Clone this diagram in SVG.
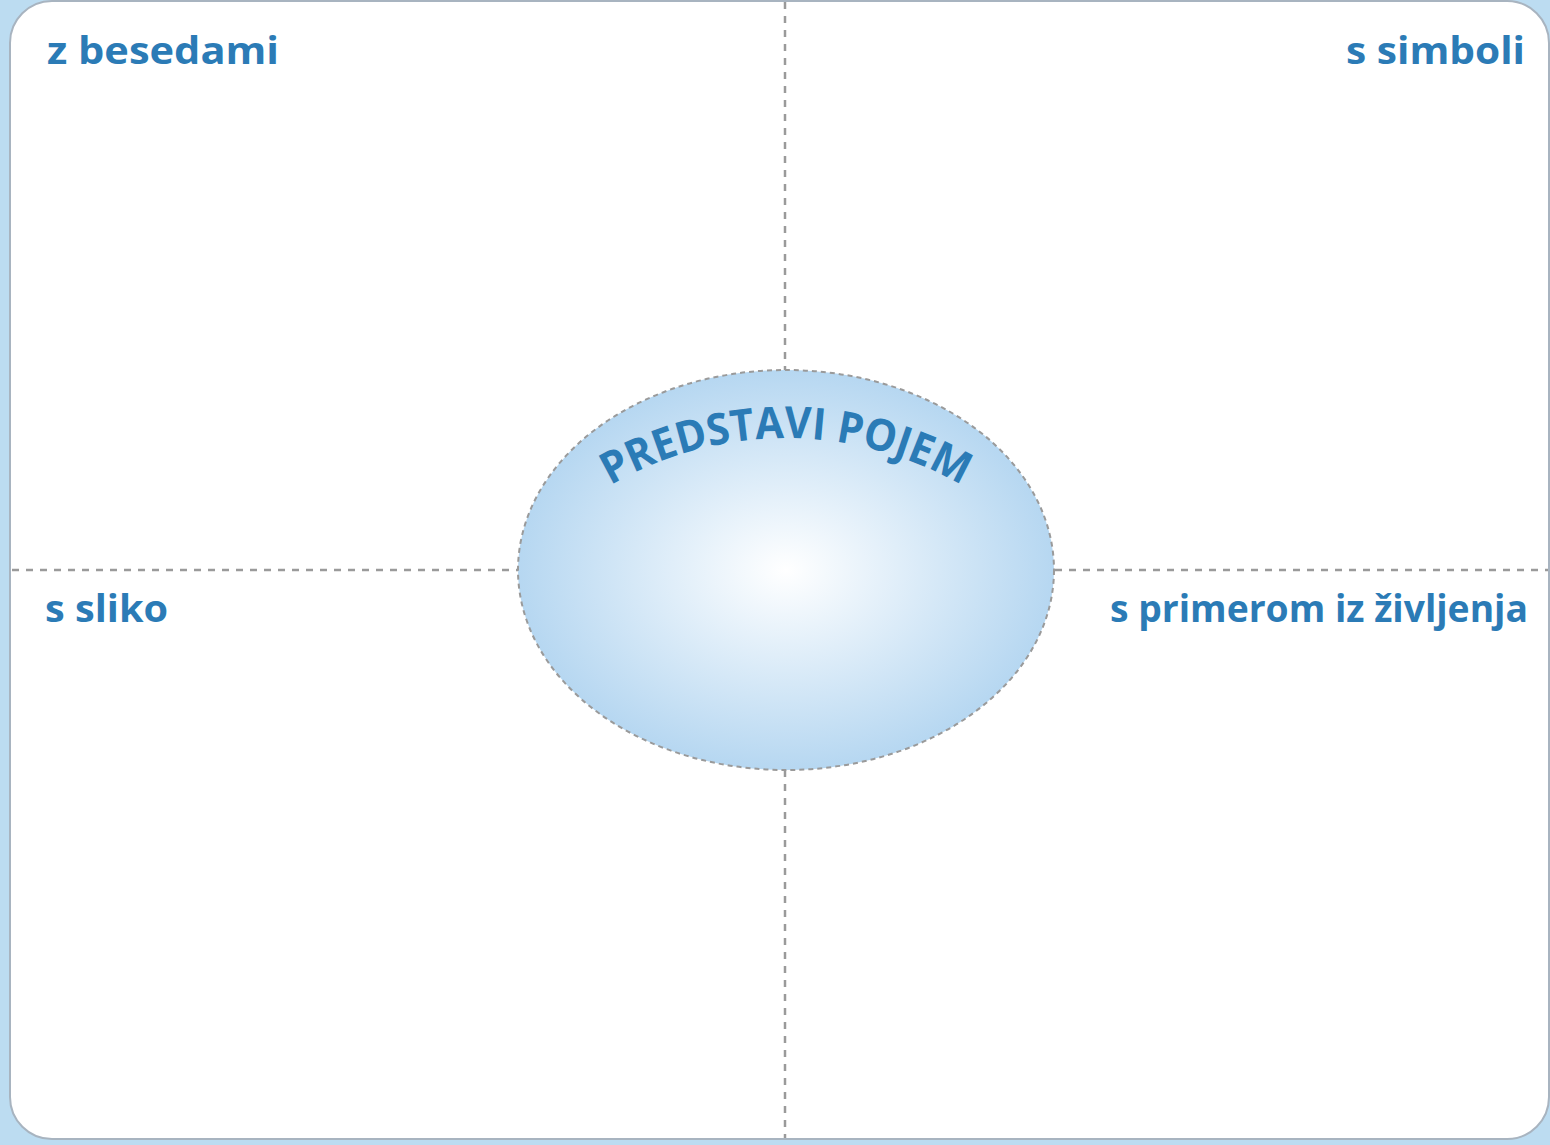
<svg xmlns="http://www.w3.org/2000/svg" width="1550" height="1145" viewBox="0 0 1550 1145">
<style>
.lbl{font-family:"Open Sans","Liberation Sans",sans-serif;font-weight:700;fill:#2b7bb6;font-size:38px}
.div{stroke:#9a9a9a;stroke-width:2.5;stroke-dasharray:7 7;fill:none}
</style>
<defs>
<radialGradient id="g" cx="0.5" cy="0.5" r="0.5">
<stop offset="0" stop-color="#ffffff"/>
<stop offset="1" stop-color="#b6d7f1"/>
</radialGradient>
<path id="arc" d="M 436 788 A 350 350 0 0 1 1136 788"/>
</defs>
<rect x="0" y="0" width="1550" height="1145" fill="#bcdcf1"/>
<rect x="10" y="1" width="1539" height="1138" rx="42" ry="42" fill="#ffffff" stroke="#a8b4c0" stroke-width="2"/>
<g id="connectors">
<line class="div" x1="785" y1="2" x2="785" y2="370"/>
<line class="div" x1="785" y1="770" x2="785" y2="1138"/>
<line class="div" x1="12" y1="570" x2="518" y2="570"/>
<line class="div" x1="1055" y1="570" x2="1548" y2="570"/>
</g>
<g id="center">
<ellipse cx="786" cy="570" rx="268" ry="200" fill="url(#g)" stroke="#9a9a9a" stroke-width="2" stroke-dasharray="5 4"/>
<text font-family="'Open Sans','Liberation Sans',sans-serif" font-weight="700" font-size="44" fill="#2b7bb6"><textPath href="#arc" startOffset="50%" text-anchor="middle" textLength="368" lengthAdjust="spacingAndGlyphs">PREDSTAVI POJEM</textPath></text>
</g>
<g id="q1"><text class="lbl" x="47" y="64" textLength="232" lengthAdjust="spacingAndGlyphs">z besedami</text></g>
<g id="q2"><text class="lbl" x="1346" y="64" textLength="179" lengthAdjust="spacingAndGlyphs">s simboli</text></g>
<g id="q3"><text class="lbl" x="45" y="622" textLength="123" lengthAdjust="spacingAndGlyphs">s sliko</text></g>
<g id="q4"><text class="lbl" x="1110" y="622" textLength="418" lengthAdjust="spacingAndGlyphs">s primerom iz življenja</text></g>
</svg>
